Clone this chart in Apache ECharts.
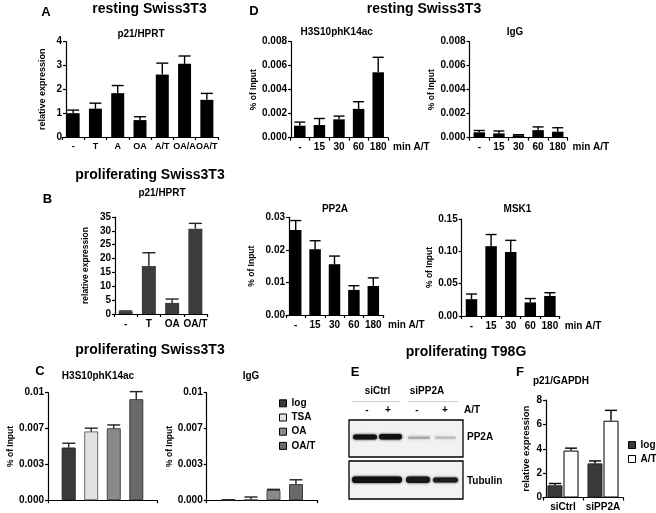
<!DOCTYPE html>
<html><head><meta charset="utf-8">
<script src="https://cdn.jsdelivr.net/npm/echarts@6/dist/echarts.min.js"></script>
<style>html,body{margin:0;padding:0;background:#fff}#c{width:656px;height:513px}</style>
</head><body><div id="c"></div>
<script>
// ---------------- data ----------------
const catA = ['-','T','A','OA','A/T','OA/A','OA/T'];
const valA = [1.0,1.19,1.84,0.71,2.62,3.07,1.56];
const errA = [0.13,0.23,0.32,0.14,0.48,0.33,0.27];
const ticksA = ['0','1','2','3','4'];

const catB = ['-','T','OA','OA/T'];
const valB = [0.9,17.3,4.0,30.8];
const errB = [0.2,4.8,1.4,1.9];
const ticksB = ['0','5','10','15','20','25','30','35'];

const seriesC = ['log','TSA','OA','OA/T'];
const valC_H3 = [0.0049,0.0064,0.0067,0.0094];
const errC_H3 = [0.0004,0.0003,0.0003,0.0007];
const valC_IgG = [0.00003,0.0001,0.00095,0.0015];
const errC_IgG = [0,0.0002,0.00006,0.0004];
const ticksC = ['0.000','0.003','0.007','0.01'];

const catD = ['-','15','30','60','180'];
const valD_H3 = [0.001,0.00106,0.00153,0.0024,0.00545];
const errD_H3 = [0.0003,0.00054,0.00027,0.0006,0.00125];
const valD_IgG = [0.00045,0.00036,0.0002,0.00063,0.0005];
const errD_IgG = [0.00015,0.0002,0.00005,0.00027,0.00033];
const valD_PP2A = [0.0261,0.0202,0.0156,0.0077,0.0089];
const errD_PP2A = [0.0029,0.0026,0.0025,0.0013,0.0025];
const valD_MSK1 = [0.026,0.108,0.099,0.021,0.031];
const errD_MSK1 = [0.008,0.018,0.018,0.006,0.005];
const ticksD_H3 = ['0.000','0.002','0.004','0.006','0.008'];
const ticksD_PP2A = ['0.00','0.01','0.02','0.03'];
const ticksD_MSK1 = ['0.00','0.05','0.10','0.15'];

const catF = ['siCtrl','siPP2A'];
const seriesF = ['log','A/T'];
const valF_log = [1.0,2.8];
const errF_log = [0.15,0.2];
const valF_AT = [3.85,6.3];
const errF_AT = [0.2,0.85];
const ticksF = ['0','2','4','6','8'];

// ---------------- helpers ----------------
const FONT = '"Liberation Sans", Arial, Helvetica, sans-serif';
const AX = {color:'#000', width:1.2};

function yAx(grid, max, interval, labels, name, nameGap, nameSize, offset) {
  return {
    type:'value', gridIndex:grid, min:0, max:max, interval:interval, offset:offset||0,
    axisLine:{show:true, lineStyle:AX},
    axisTick:{show:true, length:3, lineStyle:AX},
    splitLine:{show:false},
    axisLabel:{color:'#000', fontFamily:FONT, fontWeight:'bold', fontSize:10, margin:4,
      formatter:(v)=>labels[Math.round(v/interval)]},
    name:name||'', nameLocation:'middle', nameGap:nameGap||0,
    nameTextStyle:{color:'#000', fontFamily:FONT, fontWeight:'bold', fontSize:nameSize||9}
  };
}
function xAx(grid, cats, showLabels, endName, labelSize) {
  const o = {
    type:'category', gridIndex:grid, data:cats,
    axisLine:{show:true, lineStyle:AX},
    axisTick:{show:true, length:3, alignWithLabel:false, lineStyle:AX},
    axisLabel:{show:showLabels!==false, interval:0, color:'#000', fontFamily:FONT, fontWeight:'bold', fontSize:labelSize||10, margin:5},
    splitLine:{show:false}
  };
  if (endName) {
    o.name = endName; o.nameLocation = 'end'; o.nameGap = 5;
    o.nameTextStyle = {color:'#000', fontFamily:FONT, fontWeight:'bold', fontSize:10, verticalAlign:'top', padding:[5,0,0,0]};
  }
  return o;
}
function barS(grid, name, data, color, width, extra) {
  return Object.assign({
    type:'bar', name:name, xAxisIndex:grid, yAxisIndex:grid, data:data, barWidth:width,
    itemStyle:{color:color}, silent:true, z:2
  }, extra||{});
}
function errS(grid, vals, errs, offsetPx, capW, color) {
  return {
    type:'custom', xAxisIndex:grid, yAxisIndex:grid, silent:true, z:3,
    data: vals.map((v,i)=>[i, v, v+errs[i]]),
    renderItem:(params, api)=>{
      const b = api.coord([api.value(0), api.value(1)]);
      const t = api.coord([api.value(0), api.value(2)]);
      const x = b[0] + offsetPx;
      const st = {stroke:color, lineWidth:1.4};
      return {type:'group', children:[
        {type:'line', shape:{x1:x,y1:b[1],x2:x,y2:t[1]}, style:st},
        {type:'line', shape:{x1:x-capW/2,y1:t[1],x2:x+capW/2,y2:t[1]}, style:st}
      ]};
    }
  };
}
function txt(s, x, y, size, align) {
  return {type:'text', x:x, y:y, silent:true, style:{text:s, fill:'#000',
    font:'bold '+size+'px '+FONT, align:align||'center', verticalAlign:'middle'}};
}
function band(x, y, w, h, col, blur) {
  return {type:'rect', silent:true, shape:{x:x,y:y,width:w,height:h,r:h/2},
    style:{fill:col, shadowBlur:blur, shadowColor:col}};
}

// ---------------- layout ----------------
const grids = [
  {left:62, top:41.7, width:156, height:95.3},   // 0 A
  {left:114, top:217, width:93, height:97},      // 1 B
  {left:48, top:392.7, width:109, height:107.5},  // 2 C left
  {left:206.7, top:392.7, width:111, height:107.5}, // 3 C right
  {left:290, top:41.7, width:98, height:96},      // 4 D TL
  {left:469.5, top:41.7, width:98, height:96},    // 5 D TR
  {left:286, top:217.3, width:97, height:97.7},   // 6 D BL
  {left:461.7, top:219, width:98, height:97},     // 7 D BR
  {left:543, top:400, width:80, height:97.5}      // 8 F
];

const cColors = [
  {color:'#3a3a3a', borderColor:'#222', borderWidth:1},
  {color:'#e2e2e2', borderColor:'#6a6a6a', borderWidth:1},
  {color:'#8a8a8a', borderColor:'#4a4a4a', borderWidth:1},
  {color:'#6a6a6a', borderColor:'#3a3a3a', borderWidth:1}
];
const fColors = [
  {color:'#3a3a3a', borderColor:'#222', borderWidth:1},
  {color:'#ffffff', borderColor:'#000', borderWidth:1}
];

const xAxes = [
  xAx(0, catA, true, null, 9), xAx(1, catB), xAx(2, [''], false), xAx(3, [''], false),
  xAx(4, catD, true, 'min A/T'), xAx(5, catD, true, 'min A/T'),
  xAx(6, catD, true, 'min A/T'), xAx(7, catD, true, 'min A/T'), xAx(8, catF)
];
const yAxes = [
  yAx(0, 4, 1, ticksA, 'relative expression', 19, 9, -4),
  yAx(1, 35, 5, ticksB, 'relative expression', 25, 8.5, -1),
  yAx(2, 0.01, 0.01/3, ticksC, '% of Input', 33, 8.5),
  yAx(3, 0.01, 0.01/3, ticksC, '% of Input', 30, 8.5),
  yAx(4, 0.008, 0.002, ticksD_H3, '% of Input', 33, 8.5, -1),
  yAx(5, 0.008, 0.002, ticksD_H3, '% of Input', 32, 8.5),
  yAx(6, 0.03, 0.01, ticksD_PP2A, '% of Input', 33, 8.5, -3),
  yAx(7, 0.15, 0.05, ticksD_MSK1, '% of Input', 27, 8.5),
  yAx(8, 8, 2, ticksF, 'relative expression', 15, 9.5, -3)
];

const series = [];
// A
series.push(barS(0, 'A', valA, '#000', 13));
series.push(errS(0, valA, errA, 0, 12, '#000'));
// B
series.push(barS(1, 'B', valB, '#3c3c3c', 14));
series.push(errS(1, valB, errB, 0, 13, '#222'));
// C
seriesC.forEach((n,k)=>{
  series.push(barS(2, n, [valC_H3[k]], null, 14, {itemStyle:cColors[k], barGap:'61%'}));
  series.push(barS(3, n, [valC_IgG[k]], null, 14, {itemStyle:cColors[k], barGap:'61%'}));
});
seriesC.forEach((n,k)=>{
  const off = (k-1.5)*22.5;
  series.push(errS(2, [valC_H3[k]], [errC_H3[k]], off, 13, '#222'));
  series.push(errS(3, [valC_IgG[k]], [errC_IgG[k]], off, 13, '#222'));
});
// D
series.push(barS(4, 'D1', valD_H3, '#000', 11.5));
series.push(errS(4, valD_H3, errD_H3, 0, 11, '#000'));
series.push(barS(5, 'D2', valD_IgG, '#000', 11.5));
series.push(errS(5, valD_IgG, errD_IgG, 0, 11, '#000'));
series.push(barS(6, 'D3', valD_PP2A, '#000', 11.5));
series.push(errS(6, valD_PP2A, errD_PP2A, 0, 11, '#000'));
series.push(barS(7, 'D4', valD_MSK1, '#000', 11.5));
series.push(errS(7, valD_MSK1, errD_MSK1, 0, 11, '#000'));
// F
series.push(barS(8, 'log', valF_log, null, 15, {itemStyle:fColors[0], barGap:'7%'}));
series.push(barS(8, 'A/T', valF_AT, null, 15, {itemStyle:fColors[1], barGap:'7%'}));
series.push(errS(8, valF_log, errF_log, -8, 12, '#000'));
series.push(errS(8, valF_AT, errF_AT, 8, 12, '#000'));

const legTS = {color:'#000', fontFamily:FONT, fontWeight:'bold', fontSize:10, lineHeight:12};
const legends = [
  {data: seriesC.map((n,k)=>({name:n, itemStyle:{color:cColors[k].color, borderColor:'#000', borderWidth:1}})),
   orient:'vertical', left:279, top:397.3, itemWidth:7, itemHeight:7, itemGap:2.2, icon:'rect',
   padding:0, selectedMode:false, textStyle:legTS},
  {data: seriesF.map((n,k)=>({name:n, itemStyle:{color:fColors[k].color, borderColor:'#000', borderWidth:1}})),
   orient:'vertical', left:628, top:439, itemWidth:7, itemHeight:7, itemGap:2, icon:'rect',
   padding:0, selectedMode:false, textStyle:legTS}
];

const graphics = [
  txt('resting Swiss3T3', 149.5, 9, 14), txt('resting Swiss3T3', 424, 9, 14),
  txt('proliferating Swiss3T3', 150, 175, 14), txt('proliferating Swiss3T3', 150, 350, 14),
  txt('proliferating T98G', 466, 352, 14),
  txt('A', 46, 12.5, 13), txt('B', 47.5, 199, 13), txt('C', 40, 371, 13),
  txt('D', 254, 11, 13), txt('E', 355, 372, 13), txt('F', 520, 372, 13),
  txt('p21/HPRT', 141, 34.5, 10), txt('p21/HPRT', 162, 193, 10),
  txt('H3S10phK14ac', 98, 376.5, 10), txt('IgG', 251, 376.5, 10),
  txt('H3S10phK14ac', 336.7, 32.5, 10), txt('IgG', 515, 32.5, 10),
  txt('PP2A', 335, 209, 10), txt('MSK1', 517.5, 209, 10), txt('p21/GAPDH', 561, 381, 10),
  // E blot
  txt('siCtrl', 377.5, 391.5, 10), txt('siPP2A', 427, 391.5, 10),
  {type:'line', silent:true, shape:{x1:352,y1:401.5,x2:400,y2:401.5}, style:{stroke:'#d0d0d0', lineWidth:1}},
  {type:'line', silent:true, shape:{x1:408,y1:401.5,x2:458,y2:401.5}, style:{stroke:'#d0d0d0', lineWidth:1}},
  txt('-', 367, 410.5, 10), txt('+', 388, 410.5, 10), txt('-', 417, 410.5, 10), txt('+', 445, 410.5, 10),
  txt('A/T', 464, 410.5, 10, 'left'),
  {type:'rect', silent:true, shape:{x:349,y:420,width:114,height:37}, style:{fill:'#f2f2f2', stroke:'#000', lineWidth:1.3}},
  {type:'rect', silent:true, shape:{x:349,y:461,width:114,height:38}, style:{fill:'#f2f2f2', stroke:'#000', lineWidth:1.3}},
  band(353, 434.5, 24, 5, '#111', 2.5), band(379, 434, 23, 5.5, '#111', 2.5),
  band(408, 436.5, 22, 2.5, '#aaaaaa', 2.5), band(435, 436.5, 21, 2.5, '#c0c0c0', 2.5),
  band(352, 476.5, 50, 6.5, '#111', 2.5), band(406, 476.5, 24, 6.5, '#181818', 2.5), band(433, 477.5, 25, 5, '#1c1c1c', 2.5),
  txt('PP2A', 467, 437, 10, 'left'), txt('Tubulin', 467, 481, 10, 'left')
];

const chart = echarts.init(document.getElementById('c'), null, {renderer:'canvas'});
chart.setOption({
  animation:false, backgroundColor:'#fff',
  textStyle:{fontFamily:FONT},
  grid:grids, xAxis:xAxes, yAxis:yAxes, series:series, legend:legends, graphic:graphics
});
</script></body></html>
